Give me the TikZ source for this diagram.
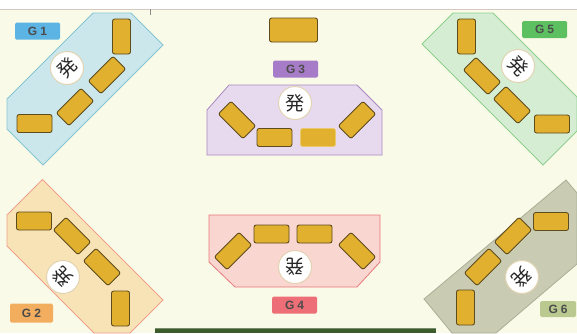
\documentclass[tikz,border=0pt]{standalone}
\usepackage{fontspec}
\setmainfont{Liberation Sans}
\newfontfamily\cjk{Noto Sans CJK JP}
\definecolor{paper}{HTML}{FAFAE8}
\definecolor{rulecol}{HTML}{D6C8C0}
\definecolor{tilefill}{HTML}{E1B02E}
\definecolor{tileline}{HTML}{5E4B1E}
\definecolor{ringcol}{HTML}{E2D4B2}
\definecolor{aFill}{HTML}{CBE7EB}\definecolor{aLine}{HTML}{86C6D4}\definecolor{aLab}{HTML}{5BB4E4}
\definecolor{bFill}{HTML}{F8E3B6}\definecolor{bLine}{HTML}{EE9F8E}\definecolor{bLab}{HTML}{F2AE5E}
\definecolor{cFill}{HTML}{E8DAEE}\definecolor{cLine}{HTML}{A888C0}\definecolor{cLab}{HTML}{A67CC8}
\definecolor{dFill}{HTML}{F9D6CF}\definecolor{dLine}{HTML}{E8787A}\definecolor{dLab}{HTML}{EE6E78}
\definecolor{eFill}{HTML}{D5EDD2}\definecolor{eLine}{HTML}{8ED08E}\definecolor{eLab}{HTML}{5CC060}
\definecolor{fFill}{HTML}{C9CCB2}\definecolor{fLine}{HTML}{A9AE94}\definecolor{fLab}{HTML}{B9C98F}
\definecolor{barcol}{HTML}{3C5C2C}
\begin{document}
\begin{tikzpicture}[x=1pt,y=1pt,
  tile/.style={draw=tileline, fill=tilefill, line width=0.9pt, rounded corners=2.2pt,
    minimum width=35pt, minimum height=18pt, inner sep=0pt},
  bigtile/.style={tile, minimum width=48pt, minimum height=24pt},
  zone/.style={line width=0.8pt},
  seat/.style={circle, draw=ringcol, line width=1pt, fill=white, minimum size=33pt, inner sep=0pt},
  glyph/.style={font=\cjk\fontsize{19}{19}\selectfont, text=black!85, inner sep=0pt},
  grouplabel/.style={rounded corners=1.5pt, minimum width=45pt, minimum height=17pt, inner sep=0pt,
    font=\bfseries\fontsize{12}{12}\selectfont, text=black!70}
]
% canvas
\useasboundingbox (0,0) rectangle (577,333);
\fill[paper] (0,0) rectangle (577,333);
\fill[white] (0,324) rectangle (577,333);
\draw[rulecol, line width=0.8pt] (0,324) -- (577,324);
\draw[black!45, line width=0.6pt] (150,324) -- (150,318);

% zones
\draw[zone, fill=aFill, draw=aLine] (7,234) -- (93,320) -- (131,320) -- (163,288) -- (43,168) -- (7,204) -- cycle;
\draw[zone, fill=eFill, draw=eLine] (422,289) -- (453,320) -- (493,320) -- (577,236) -- (577,202) -- (543,168) -- cycle;
\draw[zone, fill=bFill, draw=bLine] (42.5,153.5) -- (163,33) -- (130,0) -- (94,0) -- (7,87) -- (7,118) -- cycle;
\draw[zone, fill=fFill, draw=fLine] (566,153) -- (577,140) -- (577,69) -- (496,0) -- (452,0) -- (424,34) -- cycle;
\draw[zone, fill=cFill, draw=cLine] (229,248) -- (357,248) -- (382,223) -- (382,178) -- (207,178) -- (207,223) -- cycle;
\draw[zone, fill=dFill, draw=dLine] (209,118) -- (380,118) -- (380,71) -- (357,46) -- (235,46) -- (209,71) -- cycle;

% G1 tiles
\node[tile, rotate=90] (a1) at (121.5,296.5) {};
\node[tile, rotate=45] (a2) at (107,258) {};
\node[tile, rotate=45] (a3) at (75,226) {};
\node[tile] (a4) at (34.5,209.5) {};
\node[seat] (as) at (67,265) {};
\node[glyph, rotate=45] at (as) {発};

% G5 tiles
\node[tile, rotate=90] (e1) at (466.5,296.5) {};
\node[tile, rotate=-45] (e2) at (482,257) {};
\node[tile, rotate=-45] (e3) at (512,228) {};
\node[tile] (e4) at (552,209) {};
\node[seat] (es) at (518,267) {};
\node[glyph, rotate=-45] at (es) {発};

% G3 tiles
\node[bigtile] (c0) at (293.5,303) {};
\node[tile, rotate=-45] (c1) at (237,213) {};
\node[tile] (c2) at (274.5,195.5) {};
\node[tile, draw=tilefill!70!white] (c3) at (318,195.5) {};
\node[tile, rotate=45] (c4) at (357,213) {};
\node[seat] (cs) at (295,230) {};
\node[glyph] at (cs) {発};

% G4 tiles
\node[tile] (d1) at (271.5,99) {};
\node[tile] (d2) at (314.5,99) {};
\node[tile, rotate=45] (d3) at (233,82) {};
\node[tile, rotate=-45] (d4) at (357,82) {};
\node[seat] (ds) at (295,66) {};
\node[glyph, rotate=180] at (ds) {発};

% G2 tiles
\node[tile] (b1) at (34,112) {};
\node[tile, rotate=-45] (b2) at (72,97) {};
\node[tile, rotate=-45] (b3) at (102,66) {};
\node[tile, rotate=90] (b4) at (120.5,24.5) {};
\node[seat] (bs) at (63,56) {};
\node[glyph, rotate=135] at (bs) {発};

% G6 tiles
\node[tile] (f1) at (551,111.5) {};
\node[tile, rotate=45] (f2) at (513,97) {};
\node[tile, rotate=45] (f3) at (483,66) {};
\node[tile, rotate=90] (f4) at (465.5,25.5) {};
\node[seat] (fs) at (522,56) {};
\node[glyph, rotate=-135] at (fs) {発};

% group labels
\node[grouplabel, fill=aLab] (la) at (37.5,302) {G\hspace{3pt}1};
\node[grouplabel, fill=eLab] (le) at (544.5,303.5) {G\hspace{3pt}5};
\node[grouplabel, fill=cLab] (lc) at (295.5,264) {G\hspace{3pt}3};
\node[grouplabel, fill=dLab] (ld) at (294.5,28) {G\hspace{3pt}4};
\node[grouplabel, fill=bLab, minimum width=43pt, minimum height=19pt] (lb) at (31.5,20) {G\hspace{3pt}2};
\node[grouplabel, fill=fLab, minimum width=36pt, minimum height=16pt] (lf) at (558,24) {G\hspace{3pt}6};

% floor strip
\fill[barcol] (155,0) rectangle (436,5);
\draw[barcol!70!white, line width=0.6pt] (155,5) -- (436,5);
\end{tikzpicture}
\end{document}
